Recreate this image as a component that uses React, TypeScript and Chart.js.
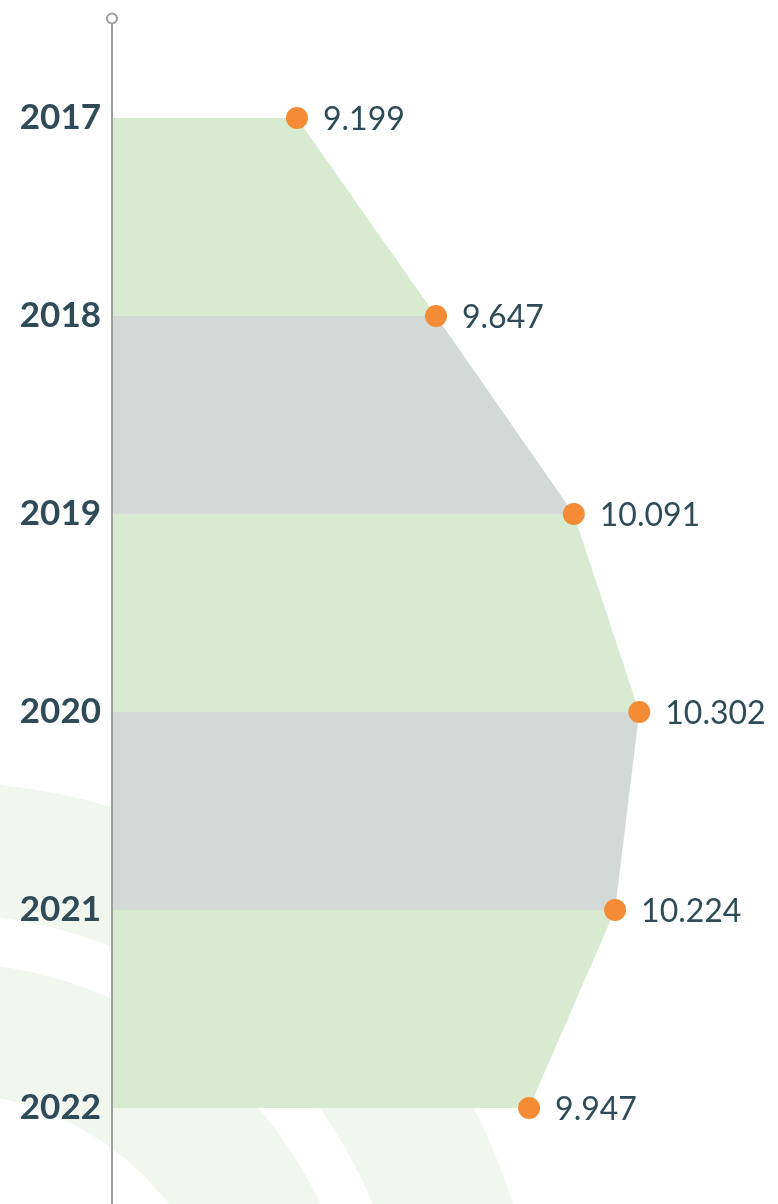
import React, { useEffect, useRef } from "react";
import { Chart, registerables } from "chart.js";

Chart.register(...registerables);

const YEARS = ["2017", "2018", "2019", "2020", "2021", "2022"];
const VALUES = [9.199, 9.647, 10.091, 10.302, 10.224, 9.947];
const VALUE_LABELS = ["9.199", "9.647", "10.091", "10.302", "10.224", "9.947"];

const X_MIN = 8.603;
const X_MAX = 10.749;

const GREEN = "#d8ead0";
const GRAY = "#d3d9d7";
const ARC = "#f1f6ef";
const ORANGE = "#f58b35";
const TEXT = "#2f4b57";
const AXIS = "#9d9d9d";

const decorPlugin = {
  id: "decor",
  beforeDraw(chart: any) {
    const ctx = chart.ctx;
    ctx.save();
    ctx.fillStyle = ARC;
    const cx = -60;
    const cy = 1382;
    const rings = [
      [468, 600],
      [290, 420],
    ];
    for (const [r0, r1] of rings) {
      ctx.beginPath();
      ctx.arc(cx, cy, r1, 0, Math.PI * 2, false);
      ctx.arc(cx, cy, r0, 0, Math.PI * 2, true);
      ctx.fill("evenodd");
    }
    ctx.restore();
  },
};

const overlayPlugin = {
  id: "overlay",
  afterDatasetsDraw(chart: any) {
    const ctx = chart.ctx;
    const left = chart.chartArea.left;
    ctx.save();
    ctx.strokeStyle = AXIS;
    ctx.lineWidth = 2;
    ctx.beginPath();
    ctx.moveTo(left, 24);
    ctx.lineTo(left, chart.height);
    ctx.stroke();
    ctx.beginPath();
    ctx.arc(left, 18.5, 5, 0, Math.PI * 2);
    ctx.fillStyle = "#ffffff";
    ctx.fill();
    ctx.stroke();
    const meta = chart.getDatasetMeta(0);
    ctx.font = "400 32px Lato";
    ctx.fillStyle = TEXT;
    ctx.textAlign = "left";
    ctx.textBaseline = "alphabetic";
    meta.data.forEach((pt: any, i: number) => {
      ctx.fillText(VALUE_LABELS[i], pt.x + 26, pt.y + 12);
    });
    ctx.restore();
  },
};

export default function App() {
  const ref = useRef<HTMLCanvasElement | null>(null);
  useEffect(() => {
    if (!ref.current) return;
    const chart = new Chart(ref.current, {
      type: "line",
      data: {
        labels: YEARS,
        datasets: [
          {
            data: VALUES,
            fill: { value: X_MIN },
            backgroundColor: GREEN,
            borderColor: "rgba(0,0,0,0)",
            borderWidth: 0,
            pointRadius: 11,
            pointHoverRadius: 11,
            pointBackgroundColor: ORANGE,
            pointBorderWidth: 0,
            clip: false,
            segment: {
              backgroundColor: (c: any) => (c.p0DataIndex % 2 === 0 ? GREEN : GRAY),
            },
          } as any,
        ],
      },
      options: {
        indexAxis: "y",
        responsive: false,
        animation: false,
        events: [],
        layout: { autoPadding: false, padding: { top: 118, bottom: 96, left: 0, right: 0 } },
        plugins: {
          legend: { display: false },
          tooltip: { enabled: false },
        },
        scales: {
          x: { type: "linear", display: false, min: X_MIN, max: X_MAX },
          y: {
            type: "category",
            offset: false,
            grid: { display: false, drawTicks: false },
            border: { display: false },
            ticks: {
              padding: 11,
              color: TEXT,
              font: { family: "Lato", weight: "bold", size: 35 },
            },
            afterFit: (s: any) => {
              s.width = 112;
            },
          },
        },
      } as any,
      plugins: [decorPlugin, overlayPlugin],
    });
    return () => chart.destroy();
  }, []);
  return (
    <div style={{ position: "absolute", left: 0, top: 0, width: 778, height: 1204 }}>
      <canvas ref={ref} width={778} height={1204} style={{ display: "block" }} />
    </div>
  );
}
